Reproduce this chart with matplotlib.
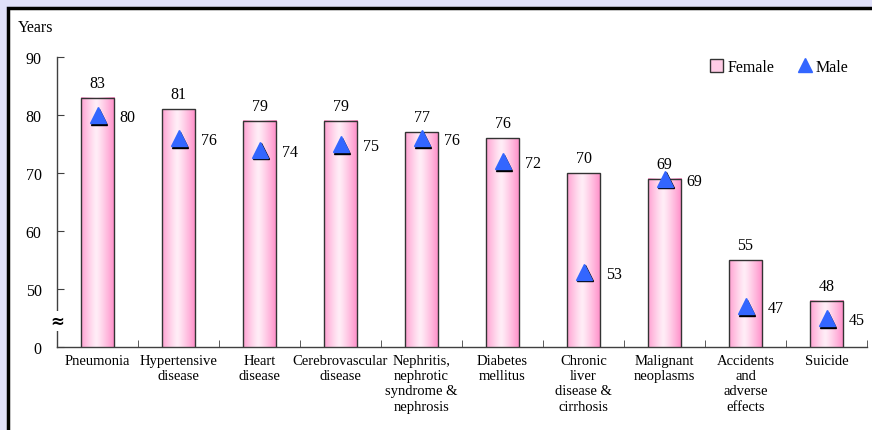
import numpy as np
import matplotlib
matplotlib.use("Agg")
import matplotlib.pyplot as plt
from matplotlib.patches import Rectangle, Patch
from matplotlib.lines import Line2D
import matplotlib.transforms as mtransforms

categories = ["Pneumonia", "Hypertensive\ndisease", "Heart\ndisease", "Cerebrovascular\ndisease",
              "Nephritis,\nnephrotic\nsyndrome &\nnephrosis", "Diabetes\nmellitus",
              "Chronic\nliver\ndisease &\ncirrhosis", "Malignant\nneoplasms",
              "Accidents\nand\nadverse\neffects", "Suicide"]
female = [83, 81, 79, 79, 77, 76, 70, 69, 55, 48]
male = [80, 76, 74, 75, 76, 72, 53, 69, 47, 45]
yticks = [40, 50, 60, 70, 80, 90]
yticklabels = ["0", "50", "60", "70", "80", "90"]

plt.rcParams['font.family'] = ['Liberation Serif', 'DejaVu Serif']

fig = plt.figure(figsize=(8.72, 4.31), dpi=100)
fig.patch.set_facecolor((224/255, 224/255, 250/255))

# white panel with black border (extends beyond figure right/bottom)
W, H = 872, 431
panel = Rectangle((8/W, -0.1), 1.2, (H - 9)/H + 0.1, transform=fig.transFigure,
                  facecolor='white', edgecolor='black', linewidth=2.5, zorder=-10)
fig.patches.append(panel)

ax = fig.add_axes([57/W, (H - 348)/H, 810/W, 290/H])
ax.set_facecolor('none')
ax.set_zorder(5)
ax.set_xlim(-0.5, len(categories) - 0.5)
ax.set_ylim(40, 90)

x = np.arange(len(categories))
bw = 0.41
bars = ax.bar(x, female, width=bw, bottom=0, facecolor='none', edgecolor='#333333',
              linewidth=1.0, zorder=3)

# horizontal pink gradient inside bars
t = np.linspace(0, 1, 64)
edge = np.array([255, 140, 200]) / 255
center = np.array([255, 238, 247]) / 255
w = np.abs(2 * (t - 0.45)) / 1.1
w = np.clip(w, 0, 1) ** 1.2
grad = center[None, :] + (edge - center)[None, :] * w[:, None]
grad = grad[None, :, :]
ybot = ax.get_ylim()[0]
for b in bars:
    x0 = b.get_x()
    ax.imshow(grad, extent=[x0, x0 + b.get_width(), ybot, b.get_height()],
              aspect='auto', zorder=2, interpolation='bilinear')
ax.set_xlim(-0.5, len(categories) - 0.5)
ax.set_ylim(40, 90)

# male triangles with shadow
shadow_tr = mtransforms.offset_copy(ax.transData, fig=fig, x=1.2, y=-1.2, units='points')
ax.plot(x, male, linestyle='none', marker='^', markersize=11, color='black',
        transform=shadow_tr, zorder=4, clip_on=False)
ax.plot(x, male, linestyle='none', marker='^', markersize=11, color='#3366FF',
        markeredgecolor='#3366FF', zorder=5, clip_on=False)

for xi, f, m in zip(x, female, male):
    ax.annotate(str(f), (xi, f), xytext=(0, 5), textcoords='offset points',
                ha='center', va='bottom', fontsize=11.5)
    ax.annotate(str(m), (xi, m), xytext=(16, -1.5), textcoords='offset points',
                ha='left', va='center', fontsize=11.5)

ax.set_yticks(yticks)
ax.set_yticklabels(yticklabels, fontsize=11.5)
ax.set_xticks(x)
ax.set_xticklabels(categories, fontsize=10.5, linespacing=1.22)
ax.set_xticks(np.arange(len(categories) + 1) - 0.5, minor=True)
ax.tick_params(axis='x', which='major', length=0, pad=5)
ax.tick_params(axis='x', which='minor', length=5, direction='in', color='#404040')
ax.tick_params(axis='y', length=5, direction='in', color='#404040', pad=11)
for s in ['top', 'right']:
    ax.spines[s].set_visible(False)
for s in ['left', 'bottom']:
    ax.spines[s].set_color('#404040')
    ax.spines[s].set_linewidth(1.0)

# axis break symbol
ax.text(0, 44.5, "≈", transform=ax.get_yaxis_transform(), ha='center', va='center',
        fontsize=12, fontweight='bold', family=['DejaVu Sans'],
        bbox=dict(facecolor='white', edgecolor='none', pad=0.5), zorder=6, clip_on=False)

fig.text(18/W, 1 - 28/H, "Years", ha='left', va='center', fontsize=11.5)

handles = [Patch(facecolor='#FFCCE6', edgecolor='#333333', linewidth=1.0),
           Line2D([], [], linestyle='none', marker='^', markersize=10, color='#3366FF')]
fig.legend(handles, ["Female", "Male"], loc='center left', bbox_to_anchor=(710/W, 1 - 68/H),
           frameon=False, ncol=2, fontsize=11.5, handlelength=0.8, handleheight=0.8,
           handletextpad=0.3, columnspacing=1.5, borderpad=0, borderaxespad=0)

fig.savefig("out.png", dpi=100, facecolor=fig.get_facecolor())
